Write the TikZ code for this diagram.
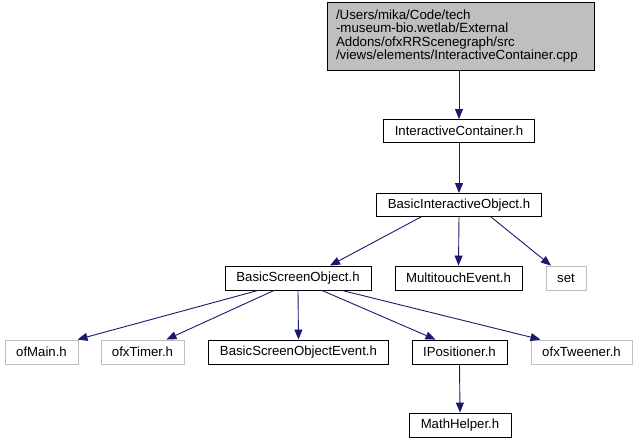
\documentclass[tikz,border=0pt]{standalone}
\usepackage{fontspec}
\setmainfont{Liberation Sans}
\usetikzlibrary{arrows.meta}
\definecolor{edgeblue}{HTML}{191970}
\definecolor{graybox}{HTML}{BFBFBF}
\begin{document}
\begin{tikzpicture}[x=1pt,y=-1pt,
  box/.style={draw=black,line width=0.9pt,minimum height=24pt,inner sep=0pt,font=\fontsize{13.2}{14}\selectfont,anchor=center},
  extbox/.style={box,draw=graybox},
  dep/.style={draw=edgeblue,line width=0.9pt,-{Triangle[length=10pt,width=8pt]}}]
\useasboundingbox (0,0) rectangle (637,443);
\node[box,fill=graybox,minimum height=68pt,inner xsep=9pt,text width=249pt,align=left,font=\fontsize{13.3}{13.3}\selectfont] (top) at (460.5,36) {/Users/mika/Code/tech\\-museum-bio.wetlab/External\\Addons/ofxRRScenegraph/src\\/views/elements/InteractiveContainer.cpp};
\node[box,minimum width=151pt,minimum height=23pt] (ic) at (459,131) {InteractiveContainer.h};
\node[box,minimum width=165pt,minimum height=23pt] (bio) at (459,205) {BasicInteractiveObject.h};
\node[box,minimum width=146pt] (bso) at (298,278) {BasicScreenObject.h};
\node[box,minimum width=127pt] (mte) at (458.5,278) {MultitouchEvent.h};
\node[extbox,minimum width=40pt] (set) at (566,278) {set};
\node[extbox,minimum width=73pt] (ofmain) at (41.5,352) {ofMain.h};
\node[extbox,minimum width=83pt] (timer) at (142.5,352) {ofxTimer.h};
\node[box,minimum width=180pt] (bsoe) at (298.5,352) {BasicScreenObjectEvent.h};
\node[box,minimum width=95pt] (ipos) at (459.5,352) {IPositioner.h};
\node[extbox,minimum width=101pt] (tween) at (581.5,352) {ofxTweener.h};
\node[box,minimum width=102pt] (mh) at (460,425) {MathHelper.h};
\draw[dep] (top.south -| ic.north) -- (ic.north);
\draw[dep] (ic.south) -- (bio.north);
\draw[dep] ([xshift=-38pt]bio.south) -- ([xshift=32pt]bso.north);
\draw[dep] (bio.south) -- (mte.north);
\draw[dep] ([xshift=32pt]bio.south) -- ([xshift=-15pt]set.north);
\draw[dep] ([xshift=-40pt]bso.south) -- ([xshift=36pt]ofmain.north);
\draw[dep] ([xshift=-24pt]bso.south) -- ([xshift=24pt]timer.north);
\draw[dep] (bso.south) -- (bsoe.north);
\draw[dep] ([xshift=24pt]bso.south) -- ([xshift=-24pt]ipos.north);
\draw[dep] ([xshift=44pt]bso.south) -- ([xshift=-41pt]tween.north);
\draw[dep] (ipos.south) -- (mh.north);
\end{tikzpicture}
\end{document}
